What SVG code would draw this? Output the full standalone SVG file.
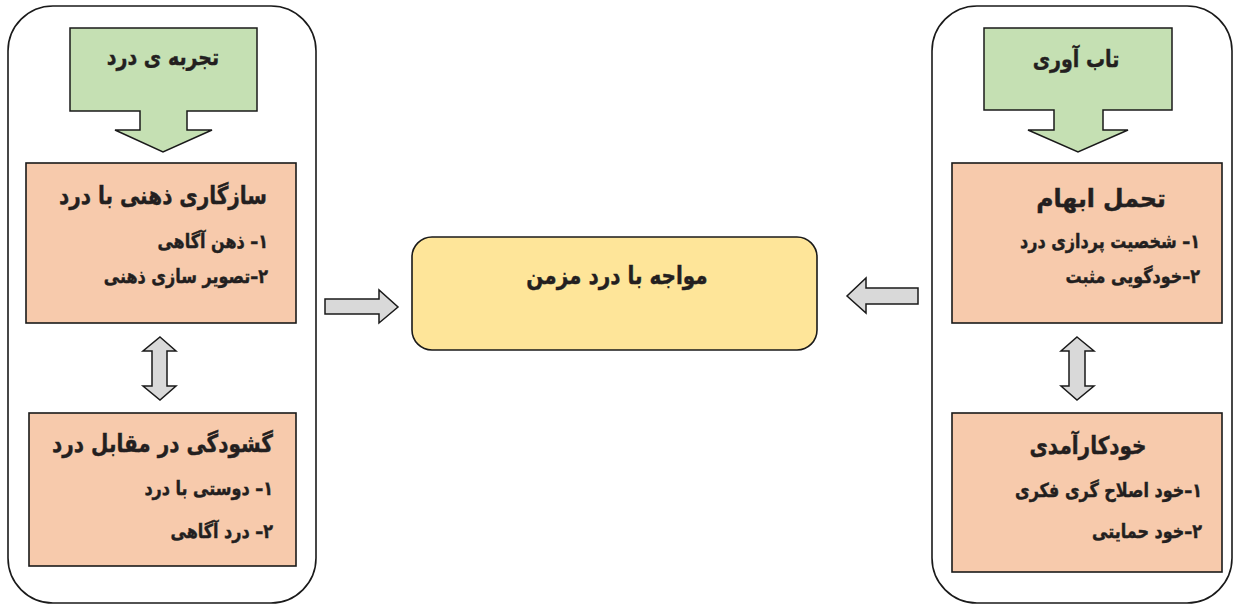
<svg xmlns="http://www.w3.org/2000/svg" width="1238" height="606" viewBox="0 0 1238 606">
<style>
.panel{fill:#ffffff;stroke:#1a1a1a;stroke-width:1.6}
.green{fill:#c5e0b3;stroke:#1a1a1a;stroke-width:1.5}
.orange{fill:#f7caac;stroke:#1a1a1a;stroke-width:1.6}
.yellow{fill:#fee599;stroke:#1a1a1a;stroke-width:1.6}
.conn{fill:#d9d9d9;stroke:#1a1a1a;stroke-width:1.5}
text{font-family:"DejaVu Sans","Noto Sans",sans-serif;font-weight:bold;fill:#231f20;stroke:#231f20;stroke-width:0.35;direction:rtl;unicode-bidi:embed}
.t{font-size:20px}
.i{font-size:16px}
.g{font-size:19px}
</style>
<rect class="panel" x="8" y="6" width="308" height="597" rx="45"/>
<rect class="panel" x="932" y="6" width="300" height="597" rx="45"/>
<g id="pain-experience">
<path class="green" d="M70,28 H257 V111 H187 V130 H212 L163,152 L115,130 H140 V111 H70 Z"/>
<text class="g" x="163" y="65" text-anchor="middle" transform="matrix(1,0,0,1.22,0,-14.3)">تجربه ی درد</text>
</g>
<g id="mental-adaptation">
<rect class="orange" x="26" y="163" width="270" height="160"/>
<text class="t" x="267" y="204" text-anchor="start" transform="matrix(1,0,0,1.22,0,-44.88)">سازگاری ذهنی با درد</text>
<text class="i" x="268" y="248" text-anchor="start" transform="matrix(1,0,0,1.22,0,-54.56)">۱– ذهن آگاهی</text>
<text class="i" x="268" y="283" text-anchor="start" transform="matrix(1,0,0,1.22,0,-62.26)">۲–تصویر سازی ذهنی</text>
</g>
<g id="openness">
<rect class="orange" x="29" y="413" width="267" height="153"/>
<text class="t" x="273" y="452" text-anchor="start" transform="matrix(1,0,0,1.22,0,-99.44)">گشودگی در مقابل درد</text>
<text class="i" x="273" y="495" text-anchor="start" transform="matrix(1,0,0,1.22,0,-108.9)">۱– دوستی با درد</text>
<text class="i" x="273" y="538" text-anchor="start" transform="matrix(1,0,0,1.22,0,-118.36)">۲– درد آگاهی</text>
</g>
<g id="chronic-pain">
<rect class="yellow" x="412" y="237" width="405" height="113" rx="20"/>
<text class="t" x="617" y="284" text-anchor="middle" transform="matrix(1,0,0,1.22,0,-62.48)">مواجه با درد مزمن</text>
</g>
<g id="resilience">
<path class="green" d="M984,28 H1172 V110 H1103 V130 H1128 L1078,152 L1028,130 H1054 V110 H984 Z"/>
<text class="g" x="1076" y="67" text-anchor="middle" transform="matrix(1,0,0,1.22,0,-14.74)">تاب آوری</text>
</g>
<g id="ambiguity-tolerance">
<rect class="orange" x="952" y="163" width="270" height="160"/>
<text class="t" x="1101" y="207" text-anchor="middle" transform="matrix(1.18,0,0,1.22,-198.18,-45.54)">تحمل ابهام</text>
<text class="i" x="1200" y="248" text-anchor="start" transform="matrix(1,0,0,1.22,0,-54.56)">۱– شخصیت پردازی درد</text>
<text class="i" x="1200" y="283" text-anchor="start" transform="matrix(1,0,0,1.22,0,-62.26)">۲–خودگویی مثبت</text>
</g>
<g id="self-efficacy">
<rect class="orange" x="952" y="413" width="270" height="159"/>
<text class="t" x="1088" y="454" text-anchor="middle" transform="matrix(1,0,0,1.22,0,-99.88)">خودکارآمدی</text>
<text class="i" x="1202" y="497" text-anchor="start" transform="matrix(1,0,0,1.22,0,-109.34)">۱–خود اصلاح گری فکری</text>
<text class="i" x="1202" y="538" text-anchor="start" transform="matrix(1,0,0,1.22,0,-118.36)">۲–خود حمایتی</text>
</g>
<g id="connectors">
<path class="conn" d="M160,337 L176,351 H167 V386 H176 L160,400 L143,386 H152 V351 H143 Z"/>
<path class="conn" d="M1077,337 L1094,351 H1085 V386 H1094 L1077,400 L1061,386 H1069 V351 H1061 Z"/>
<path class="conn" d="M325,299 H379 V290 L398,307 L379,323 V314 H325 Z"/>
<path class="conn" d="M918,288 H866 V278 L847,296 L866,313 V304 H918 Z"/>
</g>
</svg>
